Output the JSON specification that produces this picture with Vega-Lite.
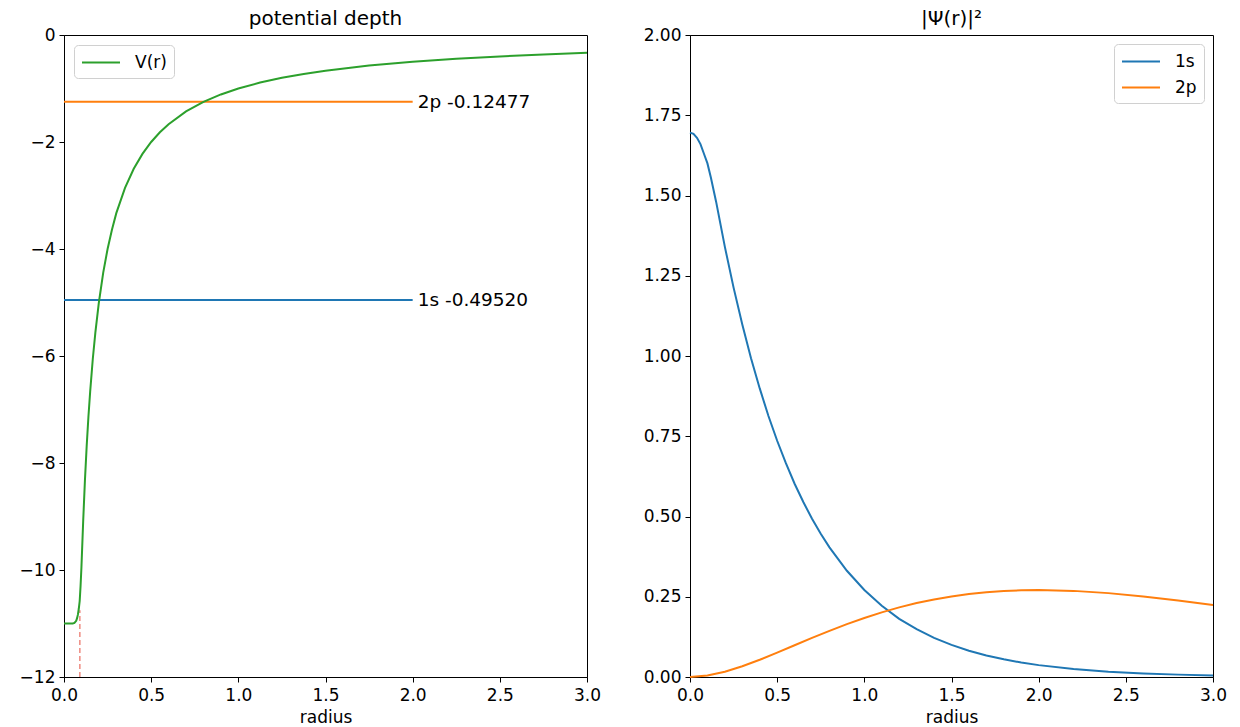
{
  "$schema": "https://vega.github.io/schema/vega-lite/v6.json",
  "padding": {"left": 18, "top": 8, "right": 5, "bottom": 5},
  "spacing": 40,
  "datasets": {
    "pot": [
      {"r": 0.0, "V": -11.0}, {"r": 0.03, "V": -11.0}, {"r": 0.05, "V": -11.0}, {"r": 0.06, "V": -10.99},
      {"r": 0.07, "V": -10.95}, {"r": 0.075, "V": -10.9}, {"r": 0.08, "V": -10.83}, {"r": 0.085, "V": -10.72},
      {"r": 0.09, "V": -10.58}, {"r": 0.095, "V": -10.3}, {"r": 0.1, "V": -9.95}, {"r": 0.11, "V": -9.09},
      {"r": 0.12, "V": -8.33}, {"r": 0.13, "V": -7.69}, {"r": 0.14, "V": -7.14}, {"r": 0.15, "V": -6.67},
      {"r": 0.165, "V": -6.06}, {"r": 0.18, "V": -5.56}, {"r": 0.2, "V": -5.0}, {"r": 0.225, "V": -4.44},
      {"r": 0.25, "V": -4.0}, {"r": 0.275, "V": -3.64}, {"r": 0.3, "V": -3.33}, {"r": 0.35, "V": -2.857},
      {"r": 0.4, "V": -2.5}, {"r": 0.45, "V": -2.222}, {"r": 0.5, "V": -2.0}, {"r": 0.55, "V": -1.818},
      {"r": 0.6, "V": -1.667}, {"r": 0.7, "V": -1.429}, {"r": 0.8, "V": -1.25}, {"r": 0.9, "V": -1.111},
      {"r": 1.0, "V": -1.0}, {"r": 1.125, "V": -0.889}, {"r": 1.25, "V": -0.8}, {"r": 1.375, "V": -0.727},
      {"r": 1.5, "V": -0.667}, {"r": 1.75, "V": -0.571}, {"r": 2.0, "V": -0.5}, {"r": 2.25, "V": -0.444},
      {"r": 2.5, "V": -0.4}, {"r": 2.75, "V": -0.364}, {"r": 3.0, "V": -0.333}
    ],
    "levels": [
      {"state": "1s", "r0": 0, "r1": 2.0, "level": -4.952, "label": "1s -0.49520"},
      {"state": "2p", "r0": 0, "r1": 2.0, "level": -1.2477, "label": "2p -0.12477"}
    ],
    "cut": [{"r": 0.0909, "y0": -12, "y1": -10.75}],
    "density": [
      {"r": 0.0, "state": "1s", "p": 1.696}, {"r": 0.02, "state": "1s", "p": 1.692}, {"r": 0.04, "state": "1s", "p": 1.68},
      {"r": 0.06, "state": "1s", "p": 1.66}, {"r": 0.08, "state": "1s", "p": 1.63}, {"r": 0.1, "state": "1s", "p": 1.6},
      {"r": 0.12, "state": "1s", "p": 1.555}, {"r": 0.15, "state": "1s", "p": 1.48}, {"r": 0.175, "state": "1s", "p": 1.41},
      {"r": 0.2, "state": "1s", "p": 1.34},
      {"r": 0.25, "state": "1s", "p": 1.213}, {"r": 0.3, "state": "1s", "p": 1.098}, {"r": 0.35, "state": "1s", "p": 0.993},
      {"r": 0.4, "state": "1s", "p": 0.899}, {"r": 0.45, "state": "1s", "p": 0.813}, {"r": 0.5, "state": "1s", "p": 0.736},
      {"r": 0.55, "state": "1s", "p": 0.666},
      {"r": 0.6, "state": "1s", "p": 0.602}, {"r": 0.65, "state": "1s", "p": 0.545}, {"r": 0.7, "state": "1s", "p": 0.493},
      {"r": 0.75, "state": "1s", "p": 0.446}, {"r": 0.8, "state": "1s", "p": 0.404},
      {"r": 0.9, "state": "1s", "p": 0.331}, {"r": 1.0, "state": "1s", "p": 0.271}, {"r": 1.1, "state": "1s", "p": 0.222},
      {"r": 1.2, "state": "1s", "p": 0.181}, {"r": 1.3, "state": "1s", "p": 0.149}, {"r": 1.4, "state": "1s", "p": 0.122},
      {"r": 1.5, "state": "1s", "p": 0.1}, {"r": 1.6, "state": "1s", "p": 0.082}, {"r": 1.7, "state": "1s", "p": 0.067},
      {"r": 1.8, "state": "1s", "p": 0.055}, {"r": 1.9, "state": "1s", "p": 0.045}, {"r": 2.0, "state": "1s", "p": 0.037},
      {"r": 2.2, "state": "1s", "p": 0.025}, {"r": 2.4, "state": "1s", "p": 0.016}, {"r": 2.6, "state": "1s", "p": 0.011},
      {"r": 2.8, "state": "1s", "p": 0.0074}, {"r": 3.0, "state": "1s", "p": 0.005},
      {"r": 0.0, "state": "2p", "p": 0.0}, {"r": 0.1, "state": "2p", "p": 0.0045}, {"r": 0.2, "state": "2p", "p": 0.0164},
      {"r": 0.3, "state": "2p", "p": 0.0333}, {"r": 0.4, "state": "2p", "p": 0.0536}, {"r": 0.5, "state": "2p", "p": 0.0758},
      {"r": 0.6, "state": "2p", "p": 0.0988}, {"r": 0.7, "state": "2p", "p": 0.1217}, {"r": 0.8, "state": "2p", "p": 0.1438},
      {"r": 0.9, "state": "2p", "p": 0.1647}, {"r": 1.0, "state": "2p", "p": 0.1839}, {"r": 1.1, "state": "2p", "p": 0.2013},
      {"r": 1.2, "state": "2p", "p": 0.2169}, {"r": 1.3, "state": "2p", "p": 0.2304}, {"r": 1.4, "state": "2p", "p": 0.2417},
      {"r": 1.5, "state": "2p", "p": 0.251}, {"r": 1.6, "state": "2p", "p": 0.2584}, {"r": 1.7, "state": "2p", "p": 0.2641},
      {"r": 1.8, "state": "2p", "p": 0.2678}, {"r": 1.9, "state": "2p", "p": 0.2699}, {"r": 2.0, "state": "2p", "p": 0.2707},
      {"r": 2.2, "state": "2p", "p": 0.2683}, {"r": 2.4, "state": "2p", "p": 0.2613}, {"r": 2.6, "state": "2p", "p": 0.251},
      {"r": 2.8, "state": "2p", "p": 0.2383}, {"r": 3.0, "state": "2p", "p": 0.224}
    ]
  },
  "hconcat": [
    {
      "width": 523,
      "height": 642,
      "title": {"text": "potential depth"},
      "layer": [
        {
          "data": {"name": "cut"},
          "mark": {"type": "rule", "color": "#ee8a80", "strokeWidth": 1.5, "strokeDash": [5, 3]},
          "encoding": {
            "x": {"field": "r", "type": "quantitative"},
            "y": {"field": "y0", "type": "quantitative"},
            "y2": {"field": "y1"}
          }
        },
        {
          "data": {"name": "levels"},
          "transform": [{"filter": "datum.state === '1s'"}],
          "mark": {"type": "rule", "color": "#1f77b4", "strokeWidth": 2},
          "encoding": {
            "x": {"field": "r0", "type": "quantitative"},
            "x2": {"field": "r1"},
            "y": {"field": "level", "type": "quantitative"}
          }
        },
        {
          "data": {"name": "levels"},
          "transform": [{"filter": "datum.state === '2p'"}],
          "mark": {"type": "rule", "color": "#ff7f0e", "strokeWidth": 2},
          "encoding": {
            "x": {"field": "r0", "type": "quantitative"},
            "x2": {"field": "r1"},
            "y": {"field": "level", "type": "quantitative"}
          }
        },
        {
          "data": {"name": "levels"},
          "mark": {"type": "text", "align": "left", "baseline": "middle", "dx": 5, "fontSize": 18.5, "color": "#000"},
          "encoding": {
            "x": {"field": "r1", "type": "quantitative"},
            "y": {"field": "level", "type": "quantitative"},
            "text": {"field": "label"}
          }
        },
        {
          "data": {"name": "pot"},
          "mark": {"type": "line", "strokeWidth": 2},
          "encoding": {
            "x": {"field": "r", "type": "quantitative", "title": "radius",
                  "scale": {"domain": [0, 3], "nice": false, "zero": false},
                  "axis": {"values": [0, 0.5, 1, 1.5, 2, 2.5, 3], "format": ".1f", "labelPadding": 5.5}},
            "y": {"field": "V", "type": "quantitative", "title": null,
                  "scale": {"domain": [-12, 0], "nice": false},
                  "axis": {"values": [-12, -10, -8, -6, -4, -2, 0], "format": "d"}},
            "color": {"datum": "V(r)", "type": "nominal",
                      "scale": {"domain": ["V(r)"], "range": ["#2ca02c"]},
                      "legend": {"title": null, "orient": "top-left", "offset": 10}}
          }
        }
      ]
    },
    {
      "width": 523,
      "height": 642,
      "title": {"text": "|Ψ(r)|²"},
      "data": {"name": "density"},
      "mark": {"type": "line", "strokeWidth": 2},
      "encoding": {
        "x": {"field": "r", "type": "quantitative", "title": "radius",
              "scale": {"domain": [0, 3], "nice": false},
              "axis": {"values": [0, 0.5, 1, 1.5, 2, 2.5, 3], "format": ".1f", "labelPadding": 5.5}},
        "y": {"field": "p", "type": "quantitative", "title": null,
              "scale": {"domain": [0, 2], "nice": false},
              "axis": {"values": [0, 0.25, 0.5, 0.75, 1, 1.25, 1.5, 1.75, 2], "format": ".2f"}},
        "color": {"field": "state", "type": "nominal",
                  "scale": {"domain": ["1s", "2p"], "range": ["#1f77b4", "#ff7f0e"]},
                  "legend": {"title": null, "orient": "top-right", "offset": 9}}
      }
    }
  ],
  "resolve": {
    "scale": {"color": "independent", "x": "independent", "y": "independent"},
    "legend": {"color": "independent"}
  },
  "config": {
    "font": "DejaVu Sans",
    "background": "white",
    "view": {"stroke": "#000", "strokeWidth": 1},
    "title": {"fontSize": 20, "fontWeight": "normal", "color": "#000", "offset": -3},
    "axis": {
      "grid": false,
      "domainColor": "#000",
      "domainWidth": 1,
      "tickColor": "#000",
      "tickSize": 5,
      "labelColor": "#000",
      "labelFontSize": 17,
      "labelPadding": 4,
      "labelFlush": false,
      "titleFontSize": 17,
      "titleFontWeight": "normal",
      "titleColor": "#000",
      "titlePadding": 6
    },
    "legend": {
      "labelFontSize": 17,
      "labelColor": "#000",
      "symbolType": "M-1,0H3",
      "symbolSize": 361,
      "symbolStrokeWidth": 2,
      "strokeColor": "#d0d0d0",
      "cornerRadius": 4,
      "padding": 7,
      "rowPadding": 7,
      "labelOffset": 33,
      "fillColor": "white"
    }
  }
}
